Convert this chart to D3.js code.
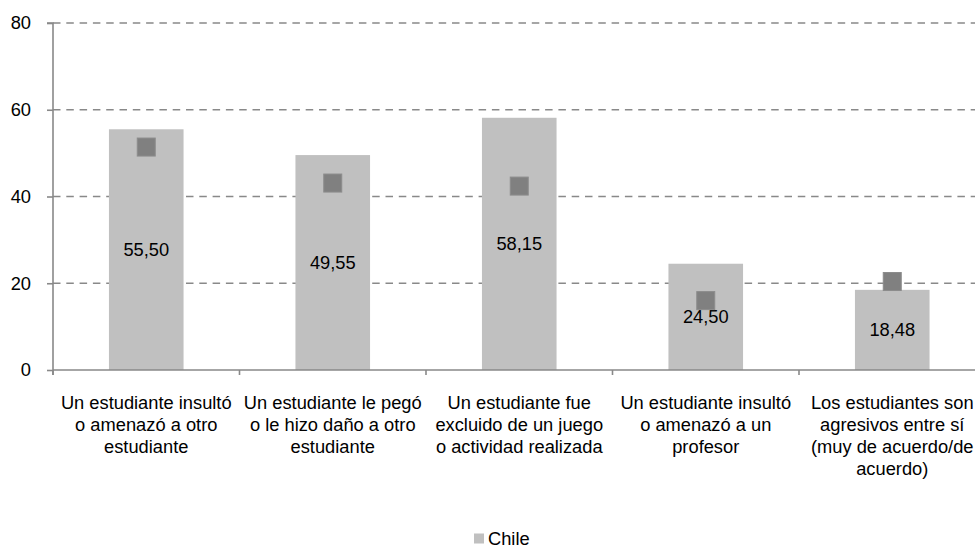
<!DOCTYPE html>
<html><head><meta charset="utf-8">
<script src="https://cdn.jsdelivr.net/npm/d3@7"></script>
<style>body{margin:0;background:#fff}svg{display:block;font-family:"Liberation Sans",Arial,sans-serif}</style>
</head><body><svg id="c" width="975" height="548"></svg>
<script>
const categories = [
  ["Un estudiante insultó","o amenazó a otro","estudiante"],
  ["Un estudiante le pegó","o le hizo daño a otro","estudiante"],
  ["Un estudiante fue","excluido de un juego","o actividad realizada"],
  ["Un estudiante insultó","o amenazó a un","profesor"],
  ["Los estudiantes son","agresivos entre sí","(muy de acuerdo/de","acuerdo)"]
];
const chileValues = [55.50, 49.55, 58.15, 24.50, 18.48];
const markerValues = [51.4, 43.1, 42.4, 16.0, 20.4];
const yTicks = [0, 20, 40, 60, 80];
const seriesName = "Chile";

const FS = 18.3;
const svg = d3.select("#c");
const x0 = 53, x1 = 985.5, yTop = 23, yBot = 370;
const x = d3.scaleBand().domain(d3.range(categories.length)).range([x0, x1]).paddingInner(0).paddingOuter(0);
const y = d3.scaleLinear().domain([0, 80]).range([yBot, yTop]);
const fmt = v => v.toFixed(2).replace(".", ",");
const axisColor = "#898989";

// gridlines
svg.append("g").selectAll("line").data(yTicks.filter(d => d > 0)).join("line")
  .attr("x1", x0).attr("x2", 975).attr("y1", d => y(d)).attr("y2", d => y(d))
  .attr("stroke", axisColor).attr("stroke-width", 1.6).attr("stroke-dasharray", "7.5,5.8");

// bars
const bw = x.bandwidth() * 0.4;
svg.append("g").selectAll("rect").data(chileValues).join("rect")
  .attr("x", (d, i) => x(i) + x.bandwidth() / 2 - bw / 2)
  .attr("width", bw)
  .attr("y", d => y(d)).attr("height", d => yBot - y(d))
  .attr("fill", "#c0c0c0");

// y axis
const yAxis = d3.axisLeft(y).tickValues(yTicks).tickSize(6).tickPadding(16);
const ga = svg.append("g").attr("transform", `translate(${x0},0)`).call(yAxis);
ga.select(".domain").attr("stroke", axisColor).attr("stroke-width", 1.6).attr("d", `M-6,${yTop}H0V${yBot+5}`);
ga.selectAll(".tick line").attr("stroke", axisColor).attr("stroke-width", 1.6);
ga.selectAll(".tick text").attr("font-size", FS).attr("fill", "#000").attr("font-family", "Liberation Sans, Arial, sans-serif");

// x axis line + ticks at boundaries
svg.append("line").attr("x1", x0).attr("x2", 975).attr("y1", yBot).attr("y2", yBot)
  .attr("stroke", axisColor).attr("stroke-width", 1.6);
svg.append("g").selectAll("line").data(d3.range(categories.length + 1)).join("line")
  .attr("x1", i => x0 + i * x.step()).attr("x2", i => x0 + i * x.step())
  .attr("y1", yBot).attr("y2", yBot + 5).attr("stroke", axisColor).attr("stroke-width", 1.6);

// data labels
svg.append("g").selectAll("text").data(chileValues).join("text")
  .attr("x", (d, i) => x(i) + x.bandwidth() / 2)
  .attr("y", d => y(d / 2)).attr("dy", "0.35em")
  .attr("text-anchor", "middle").attr("font-size", FS).attr("fill", "#000")
  .text(fmt);

// markers
const ms = 18;
svg.append("g").selectAll("rect").data(markerValues).join("rect")
  .attr("x", (d, i) => x(i) + x.bandwidth() / 2 - ms / 2)
  .attr("y", d => y(d) - ms / 2).attr("width", ms).attr("height", ms)
  .attr("fill", "#808080").attr("stroke", "#8c8c8c").attr("stroke-width", 1);

// category labels
const cl = svg.append("g").selectAll("text").data(categories).join("text")
  .attr("x", (d, i) => x(i) + x.bandwidth() / 2)
  .attr("text-anchor", "middle").attr("font-size", FS).attr("fill", "#000");
cl.each(function(lines) {
  d3.select(this).selectAll("tspan").data(lines).join("tspan")
    .attr("x", d3.select(this).attr("x"))
    .attr("y", (d, j) => 409 + j * 22)
    .text(d => d);
});

// legend
const lg = svg.append("g");
lg.append("rect").attr("x", 474).attr("y", 533.5).attr("width", 10).attr("height", 10).attr("fill", "#c0c0c0");
lg.append("text").attr("x", 488).attr("y", 545).attr("font-size", FS).attr("fill", "#000").text(seriesName);
</script></body></html>
